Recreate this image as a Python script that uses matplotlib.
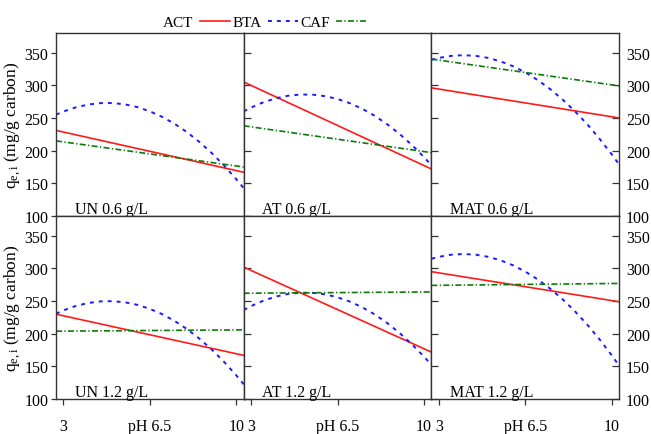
import matplotlib
matplotlib.use("Agg")
import matplotlib.pyplot as plt
from matplotlib.lines import Line2D

plt.rcParams['font.family'] = ['Liberation Serif', 'DejaVu Serif']
plt.rcParams['mathtext.fontset'] = 'stix'
plt.rcParams['font.size'] = 11

# pH positions of the model predictions
ph_ends = [2.7, 10.3]
ph_grid = [2.7, 3.0, 3.5, 4.0, 4.5, 5.0, 5.5, 6.0, 6.5, 7.0, 7.5, 8.0,
           8.5, 9.0, 9.5, 10.0, 10.3]

x_ticks = [3, 6.5, 10]
x_ticklabels = ["3", "pH 6.5", "10"]
y_ticks = [100, 150, 200, 250, 300, 350]

series_names = ["ACT", "BTA", "CAF"]

panel_labels = [["UN 0.6 g/L", "AT 0.6 g/L", "MAT 0.6 g/L"],
                ["UN 1.2 g/L", "AT 1.2 g/L", "MAT 1.2 g/L"]]

# ACT and CAF: linear in pH (values at the two ends of the range)
act_un06 = [231, 167]
caf_un06 = [215, 175]
act_at06 = [305, 172]
caf_at06 = [238, 197]
act_mat06 = [296, 250]
caf_mat06 = [340, 299]
act_un12 = [230, 167]
caf_un12 = [204, 206]
act_at12 = [302, 172]
caf_at12 = [262, 264]
act_mat12 = [295, 249]
caf_mat12 = [274, 277]

# BTA: curved response, values on ph_grid
bta_un06 = [255.0, 259.8, 266.2, 270.5, 272.7, 272.8, 270.7, 266.5, 260.1,
            251.7, 241.1, 228.4, 213.5, 196.6, 177.5, 156.3, 142.6]
bta_at06 = [260.0, 265.9, 274.0, 280.0, 284.0, 285.8, 285.6, 283.3, 279.0,
            272.5, 264.0, 253.4, 240.7, 225.9, 209.1, 190.2, 177.8]
bta_mat06 = [338.9, 341.8, 344.9, 346.0, 344.9, 341.8, 336.5, 329.2, 319.7,
             308.1, 294.4, 278.6, 260.7, 240.8, 218.6, 194.4, 178.9]
bta_un12 = [230.7, 235.8, 242.5, 247.1, 249.5, 249.9, 248.1, 244.2, 238.1,
            230.0, 219.7, 207.3, 192.8, 176.1, 157.3, 136.4, 122.8]
bta_at12 = [236.4, 242.4, 250.7, 256.9, 260.9, 262.8, 262.6, 260.3, 255.8,
            249.2, 240.5, 229.7, 216.7, 201.6, 184.4, 165.1, 152.5]
bta_mat12 = [314.7, 317.7, 320.9, 322.0, 320.9, 317.7, 312.3, 304.8, 295.1,
             283.3, 269.3, 253.2, 234.9, 214.5, 191.9, 167.2, 151.3]

panels = [[(act_un06, bta_un06, caf_un06),
           (act_at06, bta_at06, caf_at06),
           (act_mat06, bta_mat06, caf_mat06)],
          [(act_un12, bta_un12, caf_un12),
           (act_at12, bta_at12, caf_at12),
           (act_mat12, bta_mat12, caf_mat12)]]

styles = {
    "ACT": dict(color="#ff1a1a", lw=1.2, ls="-"),
    "BTA": dict(color="#1a1aff", lw=1.4, ls=(0, (2.0, 2.6))),
    "CAF": dict(color="#0a7a0a", lw=1.2, ls=(0, (3.6, 1.4, 0.8, 1.4))),
}

fig, axes = plt.subplots(2, 3, figsize=(6.51, 4.35), dpi=100,
                         sharex=True, sharey=True)
fig.subplots_adjust(left=0.086, right=0.951, top=0.922, bottom=0.080,
                    wspace=0, hspace=0)

spine_color = "#333333"
for r in range(2):
    for c in range(3):
        ax = axes[r][c]
        act, bta, caf = panels[r][c]
        ax.plot(ph_ends, act, **styles["ACT"])
        ax.plot(ph_grid, bta, **styles["BTA"])
        ax.plot(ph_ends, caf, **styles["CAF"])
        ax.set_xlim(2.7, 10.3)
        ax.set_ylim(100, 380)
        ax.set_xticks(x_ticks)
        ax.set_xticklabels(x_ticklabels)
        ax.set_yticks(y_ticks)
        for s in ax.spines.values():
            s.set_color(spine_color)
            s.set_linewidth(1.0)
        ax.tick_params(axis="x", direction="out", length=4.5, width=0.9,
                       color=spine_color, pad=9, labelsize=11.5,
                       labelbottom=(r == 1))
        if c == 0:
            ax.tick_params(axis="y", left=True, direction="out", length=3.5,
                           width=0.9, color=spine_color, pad=2,
                           labelleft=True, labelsize=11.5)
        else:
            ax.tick_params(axis="y", left=True, direction="in", length=5,
                           width=0.9, color=spine_color, labelleft=False)
        if c == 2:
            ax.tick_params(axis="y", right=True, direction="in", length=5,
                           width=0.9, color=spine_color, labelright=True,
                           pad=5, labelsize=11.5)
        ax.text(0.10, 0.018, panel_labels[r][c], transform=ax.transAxes,
                ha="left", va="baseline", fontsize=11.5)
    axes[r][0].set_ylabel(r"$\mathregular{q_{e,i}}$ (mg/g carbon)",
                          fontsize=12.5, labelpad=1)

handles = [Line2D([], [], **styles[n]) for n in series_names]
fig.legend(handles, series_names, loc="center", ncol=3, frameon=False,
           markerfirst=False, handlelength=2.0, handletextpad=0.4,
           columnspacing=0.15, fontsize=11,
           bbox_to_anchor=(265 / 651, 1 - 23 / 435),
           bbox_transform=fig.transFigure)

fig.savefig("out.png", dpi=100)
